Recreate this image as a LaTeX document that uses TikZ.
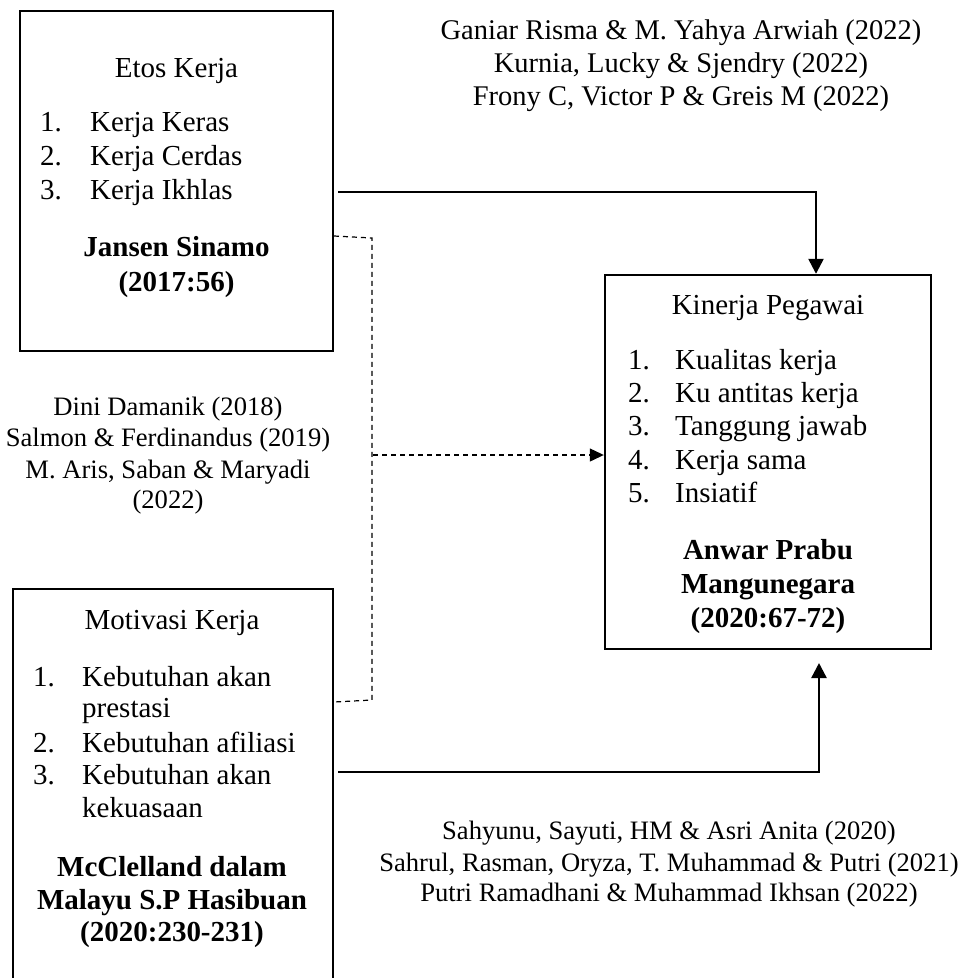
\documentclass[tikz,border=0pt]{standalone}
\usepackage{fontspec}
\setmainfont{Liberation Serif}
\usetikzlibrary{arrows.meta}
\begin{document}
\begin{tikzpicture}[x=1pt,y=-1pt,
  boxnode/.style={draw, line width=2.4pt, inner sep=0pt},
  conn/.style={line width=2.4pt, -{Triangle[length=15pt,width=15pt]}},
  dline/.style={line width=1.2pt, dash pattern=on 5pt off 4pt},
  darrow/.style={dline, -{Triangle[length=14pt,width=13pt]}},
  txt/.style={anchor=base, inner sep=0pt, font=\fontsize{29}{33}\selectfont},
  reftxt/.style={anchor=base, inner sep=0pt, font=\fontsize{26.6}{31}\selectfont},
  toptxt/.style={anchor=base, inner sep=0pt, font=\fontsize{28.5}{33}\selectfont},
  lft/.style={txt, anchor=base west},
  bld/.style={txt, font=\fontsize{29}{33}\selectfont\bfseries}]
\clip (0,0) rectangle (971,978);
\fill[white] (0,0) rectangle (971,978);

% boxes
\node[boxnode, minimum width=313pt, minimum height=340pt] (etos) at (176.5,181) {};
\node[boxnode, minimum width=326pt, minimum height=374pt] (kin) at (768,462) {};
\node[boxnode, minimum width=320pt, minimum height=411pt] (mot) at (173,794.5) {};

% Etos Kerja
\node[txt] (et) at (176.5,77) {Etos Kerja};
\node[lft] (en1) at (40,131) {1.};
\node[lft] (ei1) at (90,131) {Kerja Keras};
\node[lft] (en2) at (40,165) {2.};
\node[lft] (ei2) at (90,165) {Kerja Cerdas};
\node[lft] (en3) at (40,199) {3.};
\node[lft] (ei3) at (90,199) {Kerja Ikhlas};
\node[bld] (eb1) at (176.5,256) {Jansen Sinamo};
\node[bld] (eb2) at (176.5,291) {(2017:56)};

% Kinerja Pegawai
\node[txt] (kt) at (768,314) {Kinerja Pegawai};
\node[lft] (kn1) at (628,369) {1.};
\node[lft] (ki1) at (675,369) {Kualitas kerja};
\node[lft] (kn2) at (628,402.3) {2.};
\node[lft] (ki2) at (675,402.3) {Ku antitas kerja};
\node[lft] (kn3) at (628,435.6) {3.};
\node[lft] (ki3) at (675,435.6) {Tanggung jawab};
\node[lft] (kn4) at (628,469) {4.};
\node[lft] (ki4) at (675,469) {Kerja sama};
\node[lft] (kn5) at (628,502.3) {5.};
\node[lft] (ki5) at (675,502.3) {Insiatif};
\node[bld] (kb1) at (768,559) {Anwar Prabu};
\node[bld] (kb2) at (768,593) {Mangunegara};
\node[bld] (kb3) at (768,627) {(2020:67-72)};

% Motivasi Kerja
\node[txt] (mt) at (172,629) {Motivasi Kerja};
\node[lft] (mn1) at (33,686) {1.};
\node[lft] (mi1) at (82,686) {Kebutuhan akan};
\node[lft] (mi1b) at (82,717) {prestasi};
\node[lft] (mn2) at (33,752) {2.};
\node[lft] (mi2) at (82,752) {Kebutuhan afiliasi};
\node[lft] (mn3) at (33,784) {3.};
\node[lft] (mi3) at (82,784) {Kebutuhan akan};
\node[lft] (mi3b) at (82,817) {kekuasaan};
\node[bld] (mb1) at (172,876) {McClelland dalam};
\node[bld] (mb2) at (172,909) {Malayu S.P Hasibuan};
\node[bld] (mb3) at (172,941) {(2020:230-231)};

% references
\node[toptxt] (r1) at (681,39) {Ganiar Risma \& M. Yahya Arwiah (2022)};
\node[toptxt] (r2) at (681,72) {Kurnia, Lucky \& Sjendry (2022)};
\node[toptxt] (r3) at (681,105) {Frony C, Victor P \& Greis M (2022)};

\node[reftxt] (l1) at (168,415) {Dini Damanik (2018)};
\node[reftxt] (l2) at (168,446) {Salmon \& Ferdinandus (2019)};
\node[reftxt] (l3) at (168,478) {M. Aris, Saban \& Maryadi};
\node[reftxt] (l4) at (168,508) {(2022)};

\node[reftxt] (b1) at (669,839) {Sahyunu, Sayuti, HM \& Asri Anita (2020)};
\node[reftxt] (b2) at (669,871) {Sahrul, Rasman, Oryza, T. Muhammad \& Putri (2021)};
\node[reftxt] (b3) at (669,901) {Putri Ramadhani \& Muhammad Ikhsan (2022)};

% connectors
\coordinate (e1) at (338,192);
\coordinate (k1) at (816,192);
\draw[conn] (e1) -- (k1) -- (k1 |- kin.north);

\coordinate (d1) at (334,236);
\coordinate (d2) at (372,238);
\coordinate (d3) at (372,700);
\coordinate (d4) at (334,702);
\draw[dline] (d1) -- (d2) -- (d3) -- (d4);
\coordinate (d5) at (373,455);
\draw[darrow] (d5) -- (kin.west |- d5);

\coordinate (m1) at (338,772);
\coordinate (k2) at (819,772);
\coordinate (k3) at (819,663);
\draw[conn] (m1) -- (k2) -- (k3);
\end{tikzpicture}
\end{document}
